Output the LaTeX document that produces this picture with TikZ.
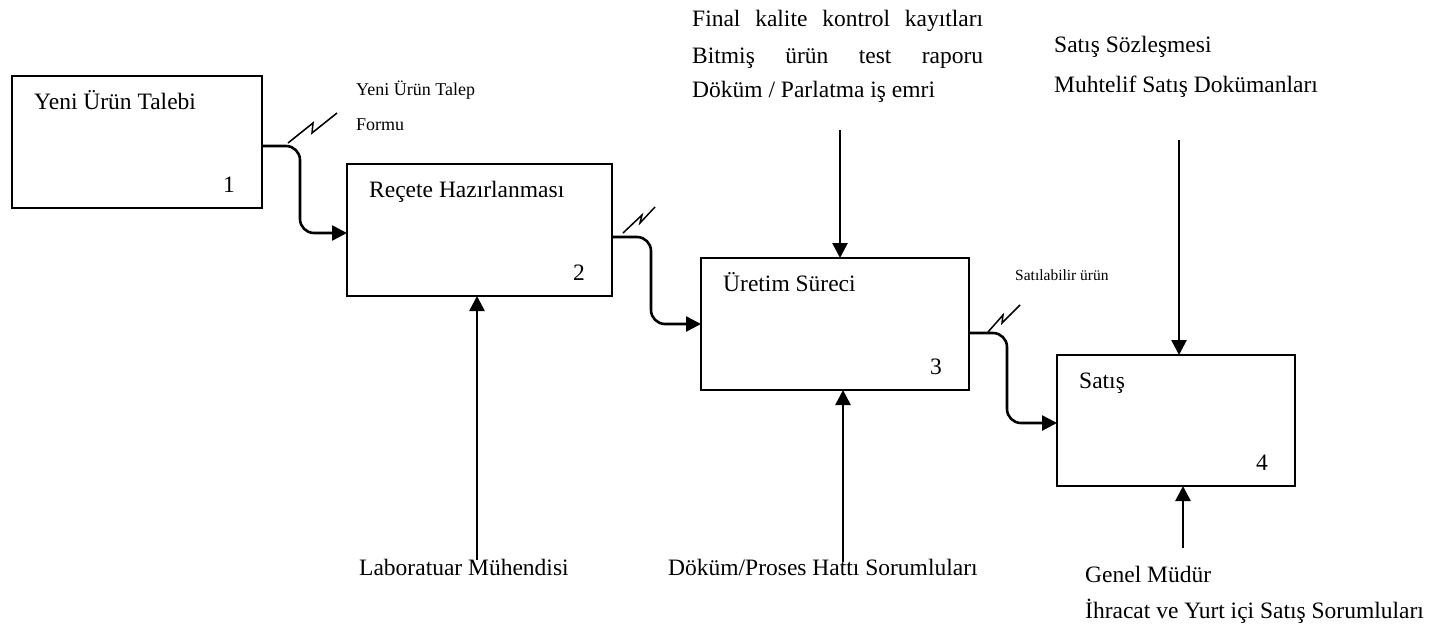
\documentclass[tikz,border=0pt]{standalone}
\usepackage{fontspec}
\setmainfont{Liberation Serif}
\usetikzlibrary{arrows.meta}
\definecolor{ink}{RGB}{0,0,0}
\tikzset{
  proc/.style={draw=ink,line width=2pt,inner sep=0pt,outer sep=0pt,anchor=north west},
  flow/.style={ink,line width=2.6pt,rounded corners=14pt,-{Triangle[length=15pt,width=15pt]}},
  ctl/.style={ink,line width=2.6pt,-{Triangle[length=15pt,width=15pt]}},
  bolt/.style={ink,line width=1.5pt,line join=miter},
  lbl/.style={ink,inner sep=0pt,anchor=base west,font=\fontsize{23.5}{28}\selectfont},
  slbl/.style={lbl,font=\fontsize{18}{22}\selectfont},
  tlbl/.style={lbl,font=\fontsize{15.5}{19}\selectfont},
}

\begin{document}
\begin{tikzpicture}[x=1pt,y=-1pt]
  \useasboundingbox (0,0) rectangle (1443,633);
  % process boxes: number/x/y/width/height/title
  \foreach \n/\x/\y/\w/\h/\ttl in {1/12/76/250/132/{Yeni Ürün Talebi},
      2/347/164/265/132/{Reçete Hazırlanması},
      3/701/258/268/132/{Üretim Süreci},
      4/1057/355/238/131/{Satış}} {
    \node[proc,minimum width=\w pt,minimum height=\h pt] (b\n) at (\x,\y) {};
    \node[lbl] (t\n) at ([xshift=22pt,yshift=-33pt]b\n.north west) {\ttl};
    \node[lbl,anchor=base east] (n\n) at ([xshift=-27pt,yshift=16pt]b\n.south east) {\n};}
  % outputs between boxes
  \draw[flow] ([yshift=-4pt]b1.east) -- ++(38,0) |- ([yshift=-3pt]b2.west);
  \draw[flow] ([yshift=-7pt]b2.east) -- ++(39,0) |- (b3.west);
  \draw[flow] ([yshift=-9pt]b3.east) -- ++(38,0) |- ([yshift=-2.5pt]b4.west);
  \draw[bolt] (288,143) -- ++(25,-20) -- ++(-1,10) -- ++(25,-20);
  \draw[bolt] (623,233) -- ++(19,-18) -- ++(-2,8) -- ++(15,-16);
  \draw[bolt] (988,332) -- ++(15,-17) -- ++(-1,8) -- ++(18,-18);
  \node[slbl] (o1a) at (356,95) {Yeni Ürün Talep};
  \node[slbl] (o1b) at (356,130) {Formu};
  \node[tlbl] (o3) at (1015,280) {Satılabilir ürün};
  % controls from above
  \coordinate (c3) at (840,130);
  \coordinate (c4) at (1179,140);
  \draw[ctl] (c3) -- (c3 |- b3.north);
  \draw[ctl] (c4) -- (c4 |- b4.north);
  \node[lbl] (c3a) at (692,26) {\makebox[291pt][s]{Final kalite kontrol kayıtları}};
  \node[lbl] (c3b) at (692,63) {\makebox[291pt][s]{Bitmiş ürün test raporu}};
  \node[lbl] (c3c) at (692,97) {Döküm / Parlatma iş emri};
  \node[lbl] (c4a) at (1054,52) {Satış Sözleşmesi};
  \node[lbl] (c4b) at (1054,92) {Muhtelif Satış Dokümanları};
  % mechanisms from below
  \coordinate (m2) at (477,560);
  \coordinate (m3) at (843,562);
  \coordinate (m4) at (1183,548);
  \draw[ctl] (m2) -- (m2 |- b2.south);
  \draw[ctl] (m3) -- (m3 |- b3.south);
  \draw[ctl] (m4) -- (m4 |- b4.south);
  \node[lbl] (m2a) at (359,575) {Laboratuar Mühendisi};
  \node[lbl] (m3a) at (668,575) {Döküm/Proses Hattı Sorumluları};
  \node[lbl] (m4a) at (1085,582) {Genel Müdür};
  \node[lbl] (m4b) at (1085,618) {İhracat ve Yurt içi Satış Sorumluları};
\end{tikzpicture}
\end{document}
